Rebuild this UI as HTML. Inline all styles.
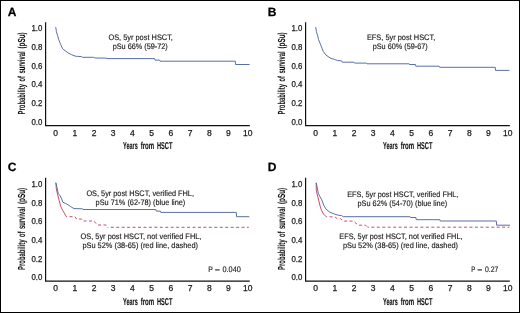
<!DOCTYPE html>
<html><head><meta charset="utf-8"><style>
html,body{margin:0;padding:0;background:#fff;}
svg{display:block;filter:blur(0.3px);}
text{font-family:"Liberation Sans",sans-serif;fill:#1a1a1a;}
.lab{font-size:12px;font-weight:bold;fill:#000;stroke:#000;stroke-width:0.25px;text-rendering:geometricPrecision;}
.tk{font-size:8.5px;stroke:#1a1a1a;stroke-width:0.25px;}
.an{font-size:8.0px;stroke:#1a1a1a;stroke-width:0.15px;text-rendering:geometricPrecision;}
.xt{font-size:10px;font-weight:bold;stroke:#111;stroke-width:0.1px;fill:#111;text-rendering:geometricPrecision;}
.yt{font-size:10.2px;font-weight:bold;stroke:#111;stroke-width:0.05px;fill:#111;text-rendering:geometricPrecision;}
.ax{fill:none;stroke:#111;stroke-width:1.2;}
.cb{fill:none;stroke:#50689f;stroke-width:0.95;stroke-linejoin:round;}
.crs{fill:none;stroke:#c9405f;stroke-width:0.95;stroke-linejoin:round;}
.cr{fill:none;stroke:#c9405f;stroke-width:0.95;stroke-dasharray:3 2.45;stroke-linejoin:round;}
</style></head><body>
<svg width="520" height="313" viewBox="0 0 520 313">
<rect width="520" height="313" fill="#fff"/>
<rect x="0.5" y="0.5" width="519" height="312" fill="none" stroke="#000" stroke-width="1"/>
<g transform="translate(0,0)">
<text x="7.8" y="15.8" class="lab">A</text>
<path d="M45.6,22.2 V125.6 H249.8" class="ax"/>
<text x="42.3" y="31.00" class="tk" text-anchor="end" textLength="10.9" lengthAdjust="spacingAndGlyphs">1.0</text>
<text x="42.3" y="50.00" class="tk" text-anchor="end" textLength="10.9" lengthAdjust="spacingAndGlyphs">0.8</text>
<text x="42.3" y="69.00" class="tk" text-anchor="end" textLength="10.9" lengthAdjust="spacingAndGlyphs">0.6</text>
<text x="42.3" y="87.00" class="tk" text-anchor="end" textLength="10.9" lengthAdjust="spacingAndGlyphs">0.4</text>
<text x="42.3" y="106.00" class="tk" text-anchor="end" textLength="10.9" lengthAdjust="spacingAndGlyphs">0.2</text>
<text x="42.3" y="125.00" class="tk" text-anchor="end" textLength="10.9" lengthAdjust="spacingAndGlyphs">0.0</text>
<text x="55.60" y="135.7" class="tk" text-anchor="middle">0</text>
<text x="74.81" y="135.7" class="tk" text-anchor="middle">1</text>
<text x="94.02" y="135.7" class="tk" text-anchor="middle">2</text>
<text x="113.23" y="135.7" class="tk" text-anchor="middle">3</text>
<text x="132.44" y="135.7" class="tk" text-anchor="middle">4</text>
<text x="151.65" y="135.7" class="tk" text-anchor="middle">5</text>
<text x="170.86" y="135.7" class="tk" text-anchor="middle">6</text>
<text x="190.07" y="135.7" class="tk" text-anchor="middle">7</text>
<text x="209.28" y="135.7" class="tk" text-anchor="middle">8</text>
<text x="228.49" y="135.7" class="tk" text-anchor="middle">9</text>
<text x="247.70" y="135.7" class="tk" text-anchor="middle">10</text>
<text x="123.00" y="149" class="xt" textLength="14.74" lengthAdjust="spacingAndGlyphs">Years</text><text x="140.70" y="149" class="xt" textLength="13.51" lengthAdjust="spacingAndGlyphs">from</text><text x="157.00" y="149" class="xt" textLength="15.39" lengthAdjust="spacingAndGlyphs">HSCT</text>
<g transform="translate(25.2,0) rotate(-90)"><text x="-114.40" y="0" class="yt" textLength="30.33" lengthAdjust="spacingAndGlyphs">Probability</text><text x="-81.50" y="0" class="yt" textLength="5.32" lengthAdjust="spacingAndGlyphs">of</text><text x="-73.50" y="0" class="yt" textLength="22.12" lengthAdjust="spacingAndGlyphs">survival</text><text x="-48.60" y="0" class="yt" textLength="16.28" lengthAdjust="spacingAndGlyphs">(pSu)</text></g>
</g>
<g transform="translate(260,0)">
<text x="7.8" y="15.8" class="lab">B</text>
<path d="M45.6,22.2 V125.6 H249.8" class="ax"/>
<text x="42.3" y="31.00" class="tk" text-anchor="end" textLength="10.9" lengthAdjust="spacingAndGlyphs">1.0</text>
<text x="42.3" y="50.00" class="tk" text-anchor="end" textLength="10.9" lengthAdjust="spacingAndGlyphs">0.8</text>
<text x="42.3" y="69.00" class="tk" text-anchor="end" textLength="10.9" lengthAdjust="spacingAndGlyphs">0.6</text>
<text x="42.3" y="87.00" class="tk" text-anchor="end" textLength="10.9" lengthAdjust="spacingAndGlyphs">0.4</text>
<text x="42.3" y="106.00" class="tk" text-anchor="end" textLength="10.9" lengthAdjust="spacingAndGlyphs">0.2</text>
<text x="42.3" y="125.00" class="tk" text-anchor="end" textLength="10.9" lengthAdjust="spacingAndGlyphs">0.0</text>
<text x="55.60" y="135.7" class="tk" text-anchor="middle">0</text>
<text x="74.81" y="135.7" class="tk" text-anchor="middle">1</text>
<text x="94.02" y="135.7" class="tk" text-anchor="middle">2</text>
<text x="113.23" y="135.7" class="tk" text-anchor="middle">3</text>
<text x="132.44" y="135.7" class="tk" text-anchor="middle">4</text>
<text x="151.65" y="135.7" class="tk" text-anchor="middle">5</text>
<text x="170.86" y="135.7" class="tk" text-anchor="middle">6</text>
<text x="190.07" y="135.7" class="tk" text-anchor="middle">7</text>
<text x="209.28" y="135.7" class="tk" text-anchor="middle">8</text>
<text x="228.49" y="135.7" class="tk" text-anchor="middle">9</text>
<text x="247.70" y="135.7" class="tk" text-anchor="middle">10</text>
<text x="123.00" y="149" class="xt" textLength="14.74" lengthAdjust="spacingAndGlyphs">Years</text><text x="140.70" y="149" class="xt" textLength="13.51" lengthAdjust="spacingAndGlyphs">from</text><text x="157.00" y="149" class="xt" textLength="15.39" lengthAdjust="spacingAndGlyphs">HSCT</text>
<g transform="translate(25.2,0) rotate(-90)"><text x="-114.40" y="0" class="yt" textLength="30.33" lengthAdjust="spacingAndGlyphs">Probability</text><text x="-81.50" y="0" class="yt" textLength="5.32" lengthAdjust="spacingAndGlyphs">of</text><text x="-73.50" y="0" class="yt" textLength="22.12" lengthAdjust="spacingAndGlyphs">survival</text><text x="-48.60" y="0" class="yt" textLength="16.28" lengthAdjust="spacingAndGlyphs">(pSu)</text></g>
</g>
<g transform="translate(0,155.5)">
<text x="7.8" y="15.8" class="lab">C</text>
<path d="M45.6,22.2 V125.6 H249.8" class="ax"/>
<text x="42.3" y="31.50" class="tk" text-anchor="end" textLength="10.9" lengthAdjust="spacingAndGlyphs">1.0</text>
<text x="42.3" y="50.50" class="tk" text-anchor="end" textLength="10.9" lengthAdjust="spacingAndGlyphs">0.8</text>
<text x="42.3" y="68.50" class="tk" text-anchor="end" textLength="10.9" lengthAdjust="spacingAndGlyphs">0.6</text>
<text x="42.3" y="87.50" class="tk" text-anchor="end" textLength="10.9" lengthAdjust="spacingAndGlyphs">0.4</text>
<text x="42.3" y="106.50" class="tk" text-anchor="end" textLength="10.9" lengthAdjust="spacingAndGlyphs">0.2</text>
<text x="42.3" y="124.50" class="tk" text-anchor="end" textLength="10.9" lengthAdjust="spacingAndGlyphs">0.0</text>
<text x="55.60" y="135.7" class="tk" text-anchor="middle">0</text>
<text x="74.81" y="135.7" class="tk" text-anchor="middle">1</text>
<text x="94.02" y="135.7" class="tk" text-anchor="middle">2</text>
<text x="113.23" y="135.7" class="tk" text-anchor="middle">3</text>
<text x="132.44" y="135.7" class="tk" text-anchor="middle">4</text>
<text x="151.65" y="135.7" class="tk" text-anchor="middle">5</text>
<text x="170.86" y="135.7" class="tk" text-anchor="middle">6</text>
<text x="190.07" y="135.7" class="tk" text-anchor="middle">7</text>
<text x="209.28" y="135.7" class="tk" text-anchor="middle">8</text>
<text x="228.49" y="135.7" class="tk" text-anchor="middle">9</text>
<text x="247.70" y="135.7" class="tk" text-anchor="middle">10</text>
<text x="123.00" y="149" class="xt" textLength="14.74" lengthAdjust="spacingAndGlyphs">Years</text><text x="140.70" y="149" class="xt" textLength="13.51" lengthAdjust="spacingAndGlyphs">from</text><text x="157.00" y="149" class="xt" textLength="15.39" lengthAdjust="spacingAndGlyphs">HSCT</text>
<g transform="translate(25.2,0) rotate(-90)"><text x="-114.40" y="0" class="yt" textLength="30.33" lengthAdjust="spacingAndGlyphs">Probability</text><text x="-81.50" y="0" class="yt" textLength="5.32" lengthAdjust="spacingAndGlyphs">of</text><text x="-73.50" y="0" class="yt" textLength="22.12" lengthAdjust="spacingAndGlyphs">survival</text><text x="-48.60" y="0" class="yt" textLength="16.28" lengthAdjust="spacingAndGlyphs">(pSu)</text></g>
</g>
<g transform="translate(260,155.5)">
<text x="7.8" y="15.8" class="lab">D</text>
<path d="M45.6,22.2 V125.6 H249.8" class="ax"/>
<text x="42.3" y="31.50" class="tk" text-anchor="end" textLength="10.9" lengthAdjust="spacingAndGlyphs">1.0</text>
<text x="42.3" y="50.50" class="tk" text-anchor="end" textLength="10.9" lengthAdjust="spacingAndGlyphs">0.8</text>
<text x="42.3" y="68.50" class="tk" text-anchor="end" textLength="10.9" lengthAdjust="spacingAndGlyphs">0.6</text>
<text x="42.3" y="87.50" class="tk" text-anchor="end" textLength="10.9" lengthAdjust="spacingAndGlyphs">0.4</text>
<text x="42.3" y="106.50" class="tk" text-anchor="end" textLength="10.9" lengthAdjust="spacingAndGlyphs">0.2</text>
<text x="42.3" y="124.50" class="tk" text-anchor="end" textLength="10.9" lengthAdjust="spacingAndGlyphs">0.0</text>
<text x="55.60" y="135.7" class="tk" text-anchor="middle">0</text>
<text x="74.81" y="135.7" class="tk" text-anchor="middle">1</text>
<text x="94.02" y="135.7" class="tk" text-anchor="middle">2</text>
<text x="113.23" y="135.7" class="tk" text-anchor="middle">3</text>
<text x="132.44" y="135.7" class="tk" text-anchor="middle">4</text>
<text x="151.65" y="135.7" class="tk" text-anchor="middle">5</text>
<text x="170.86" y="135.7" class="tk" text-anchor="middle">6</text>
<text x="190.07" y="135.7" class="tk" text-anchor="middle">7</text>
<text x="209.28" y="135.7" class="tk" text-anchor="middle">8</text>
<text x="228.49" y="135.7" class="tk" text-anchor="middle">9</text>
<text x="247.70" y="135.7" class="tk" text-anchor="middle">10</text>
<text x="123.00" y="149" class="xt" textLength="14.74" lengthAdjust="spacingAndGlyphs">Years</text><text x="140.70" y="149" class="xt" textLength="13.51" lengthAdjust="spacingAndGlyphs">from</text><text x="157.00" y="149" class="xt" textLength="15.39" lengthAdjust="spacingAndGlyphs">HSCT</text>
<g transform="translate(25.2,0) rotate(-90)"><text x="-114.40" y="0" class="yt" textLength="30.33" lengthAdjust="spacingAndGlyphs">Probability</text><text x="-81.50" y="0" class="yt" textLength="5.32" lengthAdjust="spacingAndGlyphs">of</text><text x="-73.50" y="0" class="yt" textLength="22.12" lengthAdjust="spacingAndGlyphs">survival</text><text x="-48.60" y="0" class="yt" textLength="16.28" lengthAdjust="spacingAndGlyphs">(pSu)</text></g>
</g>
<path class="cb" d="M55.5,27.1 L55.9,28 L56.4,31.7 L57.7,35.8 L58.7,39.5 L60.7,44.5 L62.5,48.7 L65.3,50.8 L68.1,52.9 L71.6,54.7 L75.1,56.1 L77.6,56.4 L81.6,56.6 L82.5,57.3 L93.5,57.3 L95,58 L106,58.1 L107,58.6 L154.5,58.6 L155,60.1 L159.7,60.1 L160,61.2 L235.3,61.2 L235.5,64.5 L249.6,64.5"/>
<path class="cb" d="M315.5,27.1 L315.9,28 L316.4,31.7 L317.7,35.8 L318.5,39.5 L320.7,44.9 L322.1,48.5 L323.2,51.3 L326,55.1 L330.2,58 L334.4,59.4 L337.6,60.6 L341.5,60.8 L342.3,62.2 L353.8,62.2 L354.5,63.1 L366.5,63.1 L367,63.8 L409.2,63.8 L409.5,64.5 L415.4,64.5 L415.8,66.2 L439.2,66.2 L439.6,67.3 L495.3,67.3 L495.5,70.4 L509.4,70.4"/>
<path class="crs" d="M55.9,182.9 L56.3,188.6 L57.7,194.9 L59.2,200.5 L60.6,206.2 L62.7,210.4 L64.8,213.9 L66.3,216.7"/>
<path class="cr" style="stroke-dashoffset:2.25" d="M66.3,216.7 L75,216.7 L76.5,219 L81.5,219 L82.8,221 L94,221 L95.5,223 L97.5,225 L106.3,225 L107.5,227.3"/>
<path class="cr" style="stroke-dashoffset:2.2" d="M107.5,227.3 L248.8,227.3"/>
<path class="cb" d="M55.8,182.6 L57.1,188 L58.2,193.4 L60.1,195.7 L61.7,198.8 L62.8,202.2 L65.5,203.4 L68.2,204.9 L70.5,206.5 L74,208.6 L82.6,208.8 L83,209.5 L155.8,209.5 L156.2,211.1 L160.4,211.1 L160.8,212.4 L236.3,212.4 L236.6,216.7 L249.3,216.7"/>
<path class="crs" d="M316.2,183 L316.3,190.7 L317.7,196.3 L319.1,201.9 L320.1,206.1 L321.5,210.3 L323.4,213.9 L326.3,216.8"/>
<path class="cr" style="stroke-dashoffset:2.25" d="M326.3,216.8 L334.8,216.8 L337.2,218.6 L340.6,218.6 L342.9,221.1 L353.3,221.1 L355,222.5 L358.3,225.2 L365.6,225.2 L367.5,227.2"/>
<path class="cr" style="stroke-dashoffset:1.6" d="M367.5,227.2 L509.3,227.2"/>
<path class="cb" d="M316.2,182.6 L317.3,188 L318.3,193.3 L319.8,196.5 L321.8,199.8 L323.7,205.2 L326,209.1 L329.8,212.2 L334.5,214.1 L338.3,215.3 L341.4,215.5 L343.3,216.7 L410.1,216.7 L410.5,217.5 L415.9,217.5 L416.3,219.7 L439.9,219.7 L440.3,221 L496.3,221 L496.6,225.2 L510,225.2"/>
<text x="108.40" y="40" class="an" textLength="64.51" lengthAdjust="spacingAndGlyphs">OS, 5yr post HSCT,</text>
<text x="112.70" y="49" class="an" textLength="55.09" lengthAdjust="spacingAndGlyphs">pSu 66% (59-72)</text>
<text x="366.90" y="40" class="an" textLength="68.31" lengthAdjust="spacingAndGlyphs">EFS, 5yr post HSCT,</text>
<text x="372.70" y="49" class="an" textLength="55.09" lengthAdjust="spacingAndGlyphs">pSu 60% (59-67)</text>
<text x="86.40" y="196" class="an" textLength="107.60" lengthAdjust="spacingAndGlyphs">OS, 5yr post HSCT, verified FHL,</text>
<text x="95.60" y="205" class="an" textLength="89.69" lengthAdjust="spacingAndGlyphs">pSu 71% (62-78) (blue line)</text>
<text x="80.50" y="239" class="an" textLength="120.91" lengthAdjust="spacingAndGlyphs">OS, 5yr post HSCT, not verified FHL,</text>
<text x="82.40" y="248" class="an" textLength="115.64" lengthAdjust="spacingAndGlyphs">pSu 52% (38-65) (red line, dashed)</text>
<text x="347.20" y="197" class="an" textLength="111.10" lengthAdjust="spacingAndGlyphs">EFS, 5yr post HSCT, verified FHL,</text>
<text x="357.50" y="206" class="an" textLength="89.69" lengthAdjust="spacingAndGlyphs">pSu 62% (54-70) (blue line)</text>
<text x="339.30" y="239" class="an" textLength="123.20" lengthAdjust="spacingAndGlyphs">EFS, 5yr post HSCT, not verified FHL,</text>
<text x="342.90" y="248" class="an" textLength="115.19" lengthAdjust="spacingAndGlyphs">pSu 52% (38-65) (red line, dashed)</text>
<text x="208.30" y="271.6" class="an" textLength="4.59" lengthAdjust="spacingAndGlyphs">P</text>
<text x="222.40" y="271.6" class="an" textLength="18.49" lengthAdjust="spacingAndGlyphs">0.040</text>
<text x="471.20" y="271.6" class="an" textLength="4.06" lengthAdjust="spacingAndGlyphs">P</text>
<text x="485.00" y="271.6" class="an" textLength="13.33" lengthAdjust="spacingAndGlyphs">0.27</text>
<rect x="215.1" y="269.3" width="4.5" height="1.2" fill="#333"/>
<rect x="477.5" y="269.3" width="4.5" height="1.2" fill="#333"/>
</svg>
</body></html>
